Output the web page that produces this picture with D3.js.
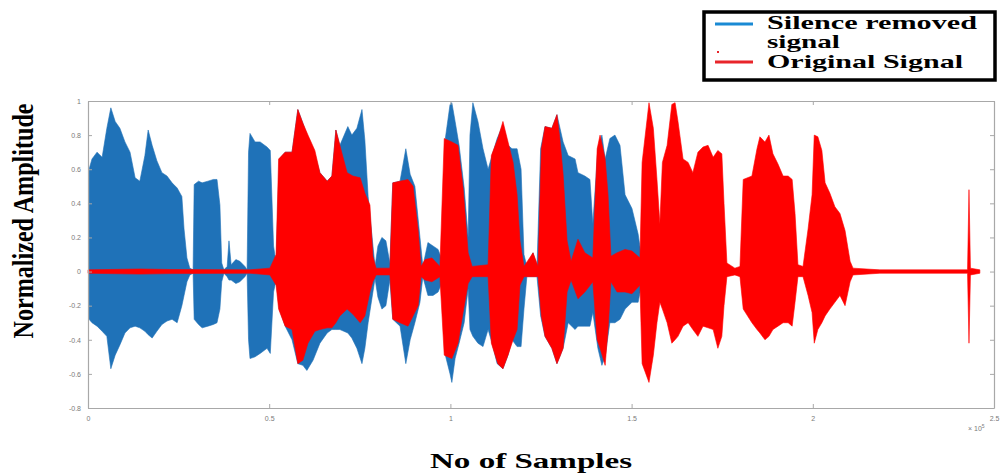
<!DOCTYPE html>
<html>
<head>
<meta charset="utf-8">
<script src="https://cdn.jsdelivr.net/npm/d3@7"></script>
<style>
  html, body { margin: 0; padding: 0; background: #fff; }
  svg { display: block; }
</style>
</head>
<body>
<svg id="chart" width="1003" height="473"></svg>
<script>
// tick labels
const xTicks = [0, 0.5, 1, 1.5, 2, 2.5]
const xTickLabels = ['0', '0.5', '1', '1.5', '2', '2.5']
const yTicks = [-0.8, -0.6, -0.4, -0.2, 0, 0.2, 0.4, 0.6, 0.8, 1]
const yTickLabels = ['-0.8', '-0.6', '-0.4', '-0.2', '0', '0.2', '0.4', '0.6', '0.8', '1']

// silence removed signal envelope (x in 1e5 samples)
const blueX = [0.003, 0.011, 0.025, 0.039, 0.052, 0.063, 0.075, 0.088, 0.102, 0.116, 0.130, 0.143, 0.157, 0.166, 0.177, 0.190, 0.204, 0.218, 0.232, 0.246, 0.259, 0.265, 0.273, 0.281, 0.290,
  0.293, 0.305, 0.315, 0.331, 0.346, 0.356, 0.364, 0.369, 0.375,
  0.384, 0.389, 0.395, 0.408, 0.419, 0.433, 0.439,
  0.443, 0.447, 0.461, 0.475, 0.494, 0.503, 0.512, 0.519,
  0.528, 0.544, 0.563, 0.579, 0.593, 0.604, 0.621, 0.640, 0.660, 0.673, 0.684, 0.695, 0.717, 0.728, 0.742, 0.756, 0.764, 0.773, 0.784, 0.792,
  0.800, 0.811, 0.822, 0.833,
  0.841, 0.861, 0.877, 0.889, 0.902, 0.916, 0.924, 0.938, 0.952, 0.966, 0.980,
  0.986, 0.999, 1.004, 1.013, 1.024, 1.038, 1.049, 1.054, 1.062, 1.076, 1.090, 1.104, 1.115, 1.129, 1.145, 1.159, 1.170, 1.184, 1.195, 1.203, 1.211, 1.228, 1.239,
  1.249, 1.261, 1.280, 1.294, 1.311, 1.325, 1.344, 1.352, 1.371, 1.385, 1.393, 1.407, 1.418, 1.427, 1.440, 1.454, 1.468, 1.482, 1.501, 1.518, 1.529, 1.534]
const blueHi = [0.60, 0.66, 0.70, 0.67, 0.84, 0.96, 0.88, 0.84, 0.76, 0.70, 0.55, 0.53, 0.68, 0.83, 0.74, 0.65, 0.58, 0.56, 0.52, 0.49, 0.44, 0.25, 0.08, 0.02, 0.01,
  0.51, 0.53, 0.52, 0.53, 0.54, 0.54, 0.39, 0.05, 0.01,
  0.03, 0.18, 0.04, 0.07, 0.06, 0.03, 0.01,
  0.70, 0.81, 0.76, 0.76, 0.73, 0.71, 0.15, 0.05,
  0.66, 0.70, 0.70, 0.95, 0.87, 0.80, 0.72, 0.58, 0.53, 0.56, 0.83, 0.74, 0.85, 0.80, 0.84, 0.95, 0.77, 0.44, 0.20, 0.03,
  0.15, 0.20, 0.18, 0.05,
  0.52, 0.53, 0.72, 0.57, 0.50, 0.20, 0.03, 0.17, 0.15, 0.13, 0.05,
  0.78, 0.98, 0.99, 0.88, 0.74, 0.49, 0.20, 0.80, 0.99, 0.88, 0.72, 0.60, 0.68, 0.78, 0.86, 0.74, 0.72, 0.72, 0.60, 0.10, 0.03, 0.11, 0.03,
  0.72, 0.85, 0.84, 0.92, 0.76, 0.68, 0.66, 0.58, 0.56, 0.54, 0.28, 0.72, 0.80, 0.66, 0.78, 0.80, 0.74, 0.45, 0.37, 0.22, 0.06, 0]
const blueLo = [-0.28, -0.30, -0.32, -0.35, -0.38, -0.57, -0.49, -0.43, -0.36, -0.33, -0.32, -0.33, -0.35, -0.37, -0.39, -0.35, -0.31, -0.29, -0.28, -0.30, -0.20, -0.14, -0.06, -0.02, -0.01,
  -0.28, -0.31, -0.33, -0.32, -0.31, -0.30, -0.22, -0.06, -0.01,
  -0.03, -0.05, -0.05, -0.07, -0.06, -0.03, -0.01,
  -0.40, -0.51, -0.50, -0.48, -0.45, -0.48, -0.12, -0.05,
  -0.22, -0.32, -0.40, -0.54, -0.55, -0.58, -0.52, -0.42, -0.36, -0.34, -0.34, -0.34, -0.36, -0.39, -0.45, -0.54, -0.45, -0.30, -0.15, -0.04,
  -0.15, -0.22, -0.20, -0.05,
  -0.28, -0.32, -0.54, -0.40, -0.30, -0.18, -0.03, -0.14, -0.14, -0.12, -0.05,
  -0.49, -0.60, -0.65, -0.51, -0.42, -0.30, -0.10, -0.34, -0.38, -0.42, -0.44, -0.34, -0.42, -0.54, -0.57, -0.49, -0.40, -0.44, -0.44, -0.22, -0.03, -0.03, -0.03,
  -0.26, -0.38, -0.45, -0.54, -0.45, -0.30, -0.34, -0.32, -0.32, -0.32, -0.24, -0.45, -0.55, -0.50, -0.30, -0.30, -0.28, -0.22, -0.18, -0.18, -0.06, 0]

// original signal envelope
const redX = [0, 0.143, 0.226, 0.447, 0.502, 0.519, 0.526, 0.544, 0.563, 0.579, 0.593, 0.607, 0.626, 0.640, 0.660, 0.673, 0.684, 0.695, 0.715, 0.731, 0.751, 0.764, 0.778, 0.786, 0.795,
  0.833, 0.841, 0.861, 0.883, 0.897, 0.911, 0.919, 0.930, 0.949, 0.971,
  0.983, 1.004, 1.021, 1.035, 1.049, 1.060, 1.104,
  1.113, 1.131, 1.145, 1.159, 1.173, 1.184, 1.192, 1.203, 1.228, 1.242,
  1.251, 1.261, 1.280, 1.294, 1.302, 1.311, 1.322, 1.333, 1.352, 1.371, 1.393,
  1.405, 1.413, 1.427, 1.435, 1.443, 1.460, 1.482, 1.501, 1.523,
  1.529, 1.548, 1.560, 1.570, 1.578, 1.585, 1.598, 1.611, 1.620, 1.628, 1.642, 1.656, 1.669, 1.683, 1.697, 1.711, 1.725, 1.738, 1.749, 1.755, 1.763, 1.785, 1.799,
  1.808, 1.832, 1.846, 1.854, 1.868, 1.879, 1.890, 1.904, 1.918, 1.932, 1.943, 1.951, 1.959, 1.973,
  1.987, 1.998, 2.004, 2.014, 2.025, 2.034, 2.047, 2.061, 2.075, 2.089, 2.103, 2.111, 2.185, 2.427, 2.431, 2.435, 2.461]
const redHi = [0.01, 0.015, 0.012, 0.01, 0.02, 0.10, 0.66, 0.70, 0.70, 0.95, 0.87, 0.80, 0.71, 0.58, 0.53, 0.56, 0.83, 0.74, 0.58, 0.56, 0.55, 0.46, 0.39, 0.09, 0.02,
  0.02, 0.52, 0.53, 0.54, 0.50, 0.24, 0.03, 0.07, 0.08, 0.03,
  0.78, 0.76, 0.74, 0.49, 0.11, 0.03, 0.04,
  0.68, 0.78, 0.88, 0.76, 0.64, 0.45, 0.18, 0.03, 0.11, 0.03,
  0.72, 0.85, 0.84, 0.92, 0.78, 0.57, 0.18, 0.06, 0.19, 0.11, 0.08,
  0.72, 0.80, 0.66, 0.45, 0.09, 0.11, 0.13, 0.12, 0.08,
  0.64, 0.99, 0.84, 0.54, 0.28, 0.64, 0.74, 0.98, 0.99, 0.88, 0.66, 0.64, 0.58, 0.70, 0.73, 0.74, 0.67, 0.71, 0.69, 0.40, 0.05, 0.02, 0.03,
  0.54, 0.56, 0.72, 0.79, 0.76, 0.80, 0.69, 0.63, 0.56, 0.56, 0.54, 0.34, 0.04, 0.03,
  0.25, 0.45, 0.80, 0.79, 0.71, 0.52, 0.46, 0.38, 0.34, 0.24, 0.06, 0.02, 0.01, 0.01, 0.48, 0.02, 0.01]
const redLo = [-0.01, -0.015, -0.012, -0.01, -0.02, -0.08, -0.22, -0.32, -0.34, -0.54, -0.52, -0.42, -0.35, -0.34, -0.33, -0.33, -0.30, -0.26, -0.22, -0.25, -0.30, -0.26, -0.12, -0.06, -0.02,
  -0.02, -0.28, -0.30, -0.32, -0.26, -0.20, -0.03, -0.05, -0.06, -0.03,
  -0.49, -0.51, -0.42, -0.24, -0.07, -0.03, -0.03,
  -0.42, -0.54, -0.57, -0.49, -0.40, -0.34, -0.08, -0.03, -0.03, -0.03,
  -0.26, -0.38, -0.45, -0.54, -0.50, -0.45, -0.12, -0.05, -0.16, -0.12, -0.06,
  -0.40, -0.45, -0.55, -0.34, -0.06, -0.12, -0.12, -0.13, -0.08,
  -0.54, -0.65, -0.49, -0.30, -0.18, -0.22, -0.30, -0.42, -0.40, -0.38, -0.32, -0.30, -0.34, -0.38, -0.32, -0.33, -0.34, -0.45, -0.38, -0.20, -0.03, -0.02, -0.03,
  -0.22, -0.30, -0.34, -0.36, -0.40, -0.38, -0.34, -0.32, -0.30, -0.30, -0.32, -0.18, -0.03, -0.03,
  -0.14, -0.24, -0.42, -0.34, -0.30, -0.26, -0.22, -0.18, -0.14, -0.20, -0.06, -0.02, -0.01, -0.01, -0.42, -0.02, -0.01]

const legendLabels = ['Silence removed', 'signal', 'Original Signal']

const blueColor = '#1f72b8'
const redColor = '#ff0000'

const svg = d3.select('#chart')

const x = d3.scaleLinear().domain([0, 2.5]).range([88, 994])
const y = d3.scaleLinear().domain([-0.8, 1]).range([408, 101])

const toRows = (xs, hi, lo) => xs.map((v, i) => ({ x: v, hi: hi[i], lo: lo[i] }))

const area = d3.area()
  .x((d) => x(d.x))
  .y0((d) => y(d.lo))
  .y1((d) => y(d.hi))

const plot = svg.append('g')

plot.append('path')
  .datum(toRows(blueX, blueHi, blueLo))
  .attr('d', area)
  .attr('fill', blueColor)
  .attr('stroke', blueColor)
  .attr('stroke-width', 1)
  .attr('stroke-opacity', 0.6)

plot.append('path')
  .datum(toRows(redX, redHi, redLo))
  .attr('d', area)
  .attr('fill', redColor)
  .attr('stroke', redColor)
  .attr('stroke-width', 1)
  .attr('stroke-opacity', 0.6)

// axes box (matlab style, ticks inside on all sides)
const axisColor = '#a8a8a8'
const tickFont = 'Liberation Sans, Arial, sans-serif'

const styleAxis = (g) => {
  g.select('.domain').attr('stroke', axisColor).attr('stroke-width', 1.2)
  g.selectAll('.tick line').attr('stroke', axisColor)
  g.selectAll('.tick text').attr('fill', '#7a7a7a').attr('font-size', 7).attr('font-family', tickFont)
}

svg.append('g')
  .attr('transform', `translate(0,${y(-0.8)})`)
  .call(d3.axisBottom(x).tickValues(xTicks).tickSizeInner(-4).tickSizeOuter(0).tickPadding(8)
    .tickFormat((d, i) => xTickLabels[i]))
  .call(styleAxis)

svg.append('g')
  .attr('transform', `translate(0,${y(1)})`)
  .call(d3.axisTop(x).tickValues(xTicks).tickSizeInner(-4).tickSizeOuter(0).tickFormat(''))
  .call(styleAxis)

svg.append('g')
  .attr('transform', `translate(${x(0)},0)`)
  .call(d3.axisLeft(y).tickValues(yTicks).tickSizeInner(-4).tickSizeOuter(0).tickPadding(7)
    .tickFormat((d, i) => yTickLabels[i]))
  .call(styleAxis)

svg.append('g')
  .attr('transform', `translate(${x(2.5)},0)`)
  .call(d3.axisRight(y).tickValues(yTicks).tickSizeInner(-4).tickSizeOuter(0).tickFormat(''))
  .call(styleAxis)

// exponent
const expo = svg.append('text')
  .attr('x', 968)
  .attr('y', 431)
  .attr('font-size', 7)
  .attr('font-family', tickFont)
  .attr('fill', '#7a7a7a')
expo.append('tspan').text('× 10')
expo.append('tspan').attr('dy', -3).attr('font-size', 5).text('5')

// axis titles
const serif = 'Liberation Serif, Times New Roman, serif'

svg.append('text')
  .attr('transform', 'translate(33,221) scale(1.25,1) rotate(-90)')
  .attr('text-anchor', 'middle')
  .attr('font-family', serif)
  .attr('font-weight', 'bold')
  .attr('font-size', 24)
  .attr('textLength', 235)
  .attr('lengthAdjust', 'spacingAndGlyphs')
  .text('Normalized Amplitude')

svg.append('text')
  .attr('x', 430)
  .attr('y', 468)
  .attr('font-family', serif)
  .attr('font-weight', 'bold')
  .attr('font-size', 21)
  .attr('textLength', 202)
  .attr('lengthAdjust', 'spacingAndGlyphs')
  .text('No of Samples')

// legend
const legend = svg.append('g')

legend.append('rect')
  .attr('x', 704)
  .attr('y', 12)
  .attr('width', 291)
  .attr('height', 68)
  .attr('fill', '#fff')
  .attr('stroke', '#000')
  .attr('stroke-width', 3.5)

legend.append('line')
  .attr('x1', 715).attr('x2', 753)
  .attr('y1', 24).attr('y2', 24)
  .attr('stroke', '#1a8ad4').attr('stroke-width', 3)

legend.append('line')
  .attr('x1', 715).attr('x2', 753)
  .attr('y1', 62).attr('y2', 62)
  .attr('stroke', '#e8252a').attr('stroke-width', 3)

legend.append('rect')
  .attr('x', 717).attr('y', 51)
  .attr('width', 2).attr('height', 2)
  .attr('fill', '#e8252a')

const legendText = [
  { label: legendLabels[0], y: 29, len: 210 },
  { label: legendLabels[1], y: 48, len: 73 },
  { label: legendLabels[2], y: 68, len: 196 }
]

legend.selectAll('text.lg')
  .data(legendText)
  .enter()
  .append('text')
  .attr('class', 'lg')
  .attr('x', 767)
  .attr('y', (d) => d.y)
  .attr('font-family', serif)
  .attr('font-weight', 'bold')
  .attr('font-size', 19.5)
  .attr('textLength', (d) => d.len)
  .attr('lengthAdjust', 'spacingAndGlyphs')
  .text((d) => d.label)
</script>
</body>
</html>
